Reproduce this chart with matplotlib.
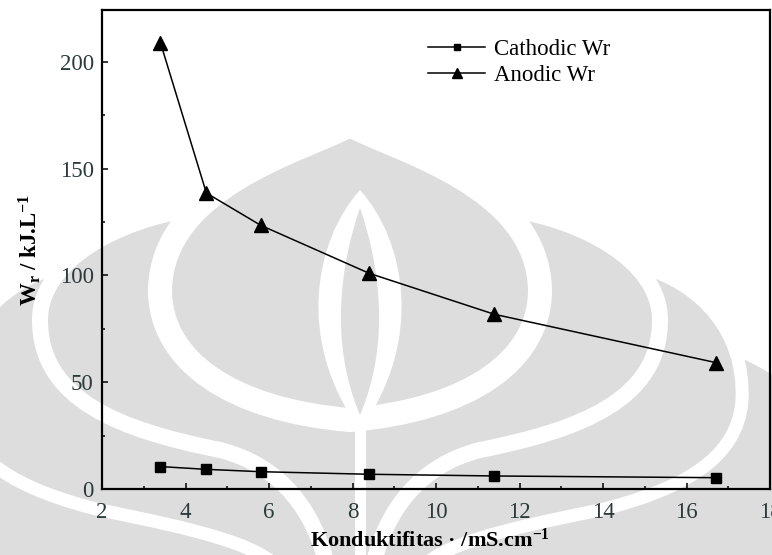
import matplotlib
matplotlib.use("Agg")
import matplotlib.pyplot as plt
from matplotlib.path import Path
from matplotlib.patches import PathPatch
from matplotlib.ticker import MultipleLocator

# conductivity (mS/cm) and released work for each electrode
conductivity = [3.4, 4.5, 5.8, 8.4, 11.4, 16.7]
cathodic_wr = [10.5, 9.2, 8.1, 6.9, 6.1, 5.3]
anodic_wr = [209.0, 138.6, 123.5, 101.0, 81.8, 59.2]

x_ticks = [2, 4, 6, 8, 10, 12, 14, 16, 18]
y_ticks = [0, 50, 100, 150, 200]

plt.rcParams["font.family"] = ["Liberation Serif", "DejaVu Serif"]
plt.rcParams["mathtext.fontset"] = "custom"
plt.rcParams["mathtext.rm"] = "Liberation Serif"
plt.rcParams["mathtext.it"] = "Liberation Serif:italic"
plt.rcParams["mathtext.bf"] = "Liberation Serif:bold"

W, H = 772, 555
fig = plt.figure(figsize=(W / 100, H / 100), dpi=100)

# --- faint university emblem behind the plot (pixel coordinates) ---
bg = fig.add_axes([0, 0, 1, 1])
bg.set_xlim(0, W)
bg.set_ylim(H, 0)
bg.axis("off")
bg.set_zorder(0)

GREY = "#dddddd"
CX = 350


def pt(px):
    return px * 72 / 100


def sym_path(side_pts, closing, cx=CX):
    """side_pts: right-hand outline as tip + cubic triples, mirrored about cx."""
    right = list(side_pts)
    left = [(2 * cx - x, y) for x, y in right]
    verts = [left[0]]
    codes = [Path.MOVETO]
    verts += left[1:]
    codes += [Path.CURVE4] * (len(left) - 1)
    verts.append(right[-1])
    codes.append(Path.LINETO)
    rev = right[::-1]
    verts += rev[1:]
    codes += [Path.CURVE4] * (len(rev) - 1)
    verts += closing
    codes += [Path.LINETO] * len(closing)
    verts.append(verts[0])
    codes.append(Path.CLOSEPOLY)
    return Path(verts, codes)


shell4 = sym_path([(745, 360), (790, 380), (830, 420), (830, 470),
                   (830, 520), (830, 560), (830, 570)],
                  [(CX, 420)])
shell3 = sym_path([(645, 268), (700, 285), (745, 330), (742, 400),
                   (738, 460), (680, 490), (600, 510),
                   (500, 530), (440, 545), (420, 570)],
                  [(CX, 380)])
shell2 = sym_path([(512, 210), (580, 220), (660, 260), (660, 320),
                   (660, 400), (580, 430), (480, 450),
                   (420, 465), (385, 510), (372, 570)],
                  [(CX, 330)])
shell1 = sym_path([(CX, 125), (395, 150), (538, 185), (540, 290),
                   (540, 360), (470, 410), (CX, 420)],
                  [])

bg.add_patch(PathPatch(shell4, facecolor=GREY, edgecolor="none"))
bg.add_patch(PathPatch(shell3, facecolor=GREY, edgecolor="white", lw=pt(13)))
bg.add_patch(PathPatch(shell2, facecolor=GREY, edgecolor="white", lw=pt(16)))
bg.add_patch(PathPatch(shell1, facecolor=GREY, edgecolor="white", lw=pt(24)))

LX = 360
lens = sym_path([(LX, 190), (405, 240), (425, 340), (LX, 430)], [], cx=LX)
core = sym_path([(LX, 208), (378, 260), (392, 340), (LX, 415)], [], cx=LX)
bg.add_patch(PathPatch(lens, facecolor="white", edgecolor="none"))
bg.add_patch(PathPatch(core, facecolor=GREY, edgecolor="none"))
bg.plot([LX, LX], [420, 560], color="white", lw=pt(11), solid_capstyle="butt")

# --- the chart itself ---
ax = fig.add_axes([102 / W, 1 - 489 / H, (770 - 102) / W, (489 - 10) / H])
ax.set_zorder(1)
ax.patch.set_alpha(0)

ax.plot(conductivity, cathodic_wr, color="black", lw=1.1, marker="s",
        markersize=6.5, label="Cathodic Wr")
ax.plot(conductivity, anodic_wr, color="black", lw=1.1, marker="^",
        markersize=9.5, label="Anodic Wr")

ax.set_xlim(2, 18)
ax.set_ylim(0, 224.3)
ax.set_xticks(x_ticks)
ax.set_yticks(y_ticks)
ax.xaxis.set_minor_locator(MultipleLocator(1))
ax.yaxis.set_minor_locator(MultipleLocator(25))

for s in ax.spines.values():
    s.set_linewidth(1.6)

ax.tick_params(which="both", direction="in", top=False, right=False,
               width=1.1, labelsize=16.5, labelcolor="#2c3a3a")
ax.tick_params(which="major", length=4.5)
ax.tick_params(which="minor", length=2.5)
ax.tick_params(axis="x", pad=9)
ax.tick_params(axis="y", pad=6)

ax.set_xlabel("Konduktifitas \u00b7 /mS.cm$^{\\mathbf{-1}}$",
              fontsize=16, fontweight="bold")
ax.xaxis.set_label_coords(0.491, -0.083)
ax.set_ylabel(r"$\mathbf{W_r}$ / kJ.L$^{\mathbf{-1}}$",
              fontsize=16.5, fontweight="bold")
ax.yaxis.set_label_coords(-0.088, 0.5)

ax.legend(loc="upper left", bbox_to_anchor=(428 / W, 1 - 39 / H),
          bbox_transform=fig.transFigure, frameon=False, fontsize=16.5,
          borderpad=0, borderaxespad=0, handlelength=2.5,
          handletextpad=0.4, labelspacing=0.2, markerscale=0.7)

fig.savefig("out.png", dpi=100)
